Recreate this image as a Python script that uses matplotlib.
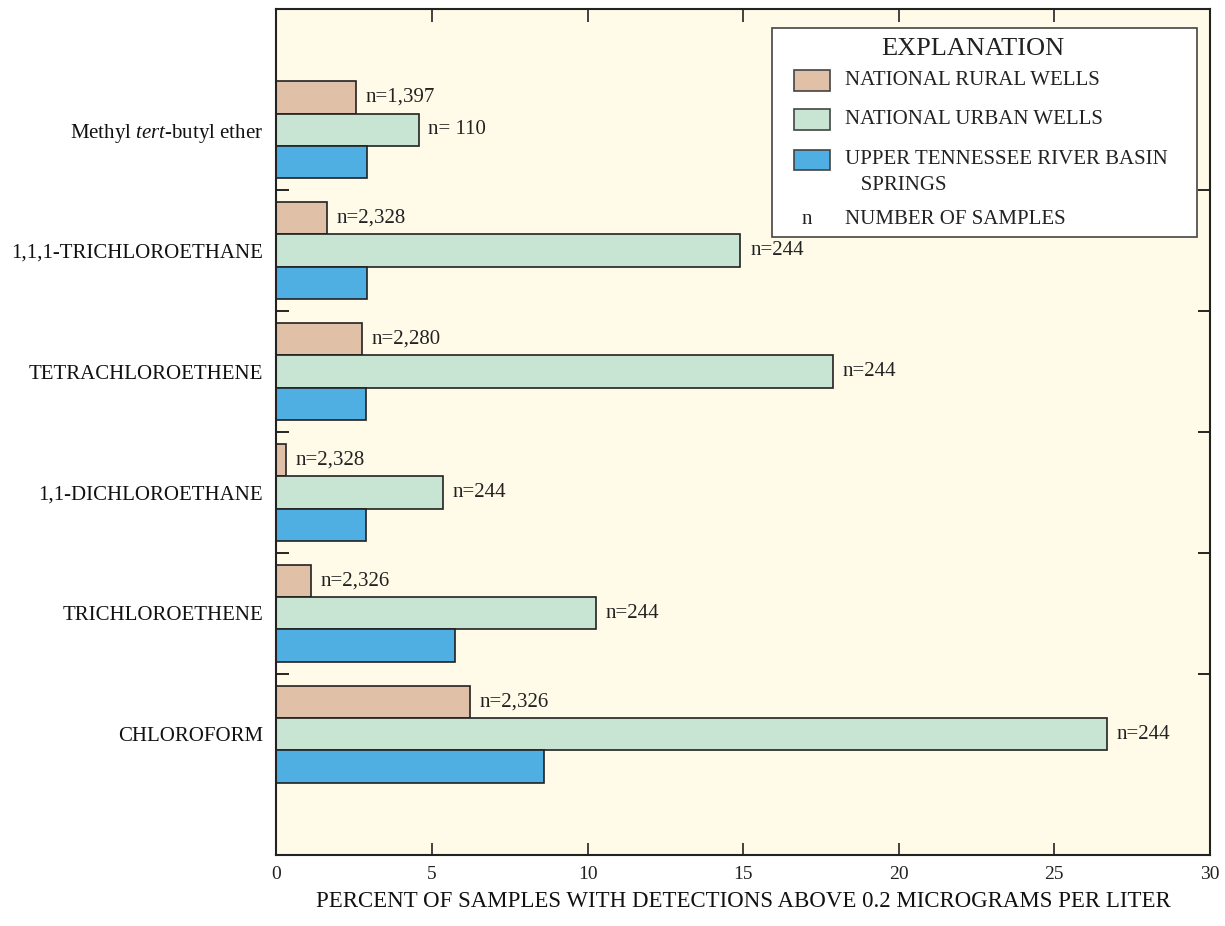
import matplotlib
matplotlib.use("Agg")
import matplotlib.pyplot as plt
from matplotlib.patches import Rectangle
import numpy as np

plt.rcParams["font.family"] = ["Liberation Serif", "DejaVu Serif"]
plt.rcParams["mathtext.fontset"] = "custom"
plt.rcParams["mathtext.rm"] = "Liberation Serif"
plt.rcParams["mathtext.it"] = "Liberation Serif:italic"

# Compounds, listed from top to bottom
compounds = [
    "Methyl $\\mathit{tert}$-butyl ether",
    "1,1,1-TRICHLOROETHANE",
    "TETRACHLOROETHENE",
    "1,1-DICHLOROETHANE",
    "TRICHLOROETHENE",
    "CHLOROFORM",
]

# Percent of samples with detections above 0.2 micrograms per liter
rural_pct = [2.54, 1.63, 2.74, 0.31, 1.11, 6.22]
urban_pct = [4.57, 14.91, 17.87, 5.34, 10.27, 26.68]
springs_pct = [2.90, 2.90, 2.88, 2.88, 5.73, 8.61]

# Number of samples
rural_n = ["n=1,397", "n=2,328", "n=2,280", "n=2,328", "n=2,326", "n=2,326"]
urban_n = ["n= 110", "n=244", "n=244", "n=244", "n=244", "n=244"]

series_names = [
    "NATIONAL RURAL WELLS",
    "NATIONAL URBAN WELLS",
    "UPPER TENNESSEE RIVER BASIN\n   SPRINGS",
]
x_ticks = [0, 5, 10, 15, 20, 25, 30]

c_rural = "#E0C0A7"
c_urban = "#C8E5D4"
c_springs = "#4FAFE2"
c_bg = "#FFFBE8"
c_edge = "#222222"

fig = plt.figure(figsize=(12.25, 9.26), dpi=100)
ax = fig.add_axes([0.2257, 0.0767, 0.7620, 0.9136])
ax.set_facecolor(c_bg)

n = len(compounds)
pos = np.arange(n)[::-1].astype(float)
bh = 0.268

bar_kw = dict(height=bh, edgecolor=c_edge, linewidth=1.2)
b_r = ax.barh(pos + bh, rural_pct, color=c_rural, **bar_kw)
b_u = ax.barh(pos, urban_pct, color=c_urban, **bar_kw)
b_s = ax.barh(pos - bh, springs_pct, color=c_springs, **bar_kw)

for y, v, lab in zip(pos + bh, rural_pct, rural_n):
    ax.annotate(lab, xy=(v, y), xytext=(7, 0), textcoords="offset points",
                va="center", ha="left", fontsize=15, color="#222222")
for y, v, lab in zip(pos, urban_pct, urban_n):
    ax.annotate(lab, xy=(v, y), xytext=(7, 0), textcoords="offset points",
                va="center", ha="left", fontsize=15, color="#222222")

ax.set_xlim(0, 30)
ax.set_ylim(-1.0, n)
ax.set_xticks(x_ticks)
ax.set_xticklabels([str(t) for t in x_ticks])
ax.set_yticks(pos)
ax.set_yticklabels(compounds)
ax.set_yticks(np.arange(n - 1) + 0.5, minor=True)

ax.tick_params(axis="x", which="major", direction="in", length=9, width=1.2,
               top=True, labelsize=14, pad=8, colors="#222222")
ax.tick_params(axis="y", which="major", length=0, pad=9.5, labelsize=15,
               colors="#111111")
ax.tick_params(axis="y", which="minor", direction="in", length=9, width=1.2,
               left=True, right=True)
for sp in ax.spines.values():
    sp.set_linewidth(1.5)
    sp.set_color(c_edge)

ax.set_xlabel("PERCENT OF SAMPLES WITH DETECTIONS ABOVE 0.2 MICROGRAMS PER LITER",
              fontsize=16.5, labelpad=6, color="#111111")

# Explanation box
box = Rectangle((0.531, 0.7305), 0.455, 0.247, transform=ax.transAxes,
                facecolor="white", edgecolor="#444444", linewidth=1.2, zorder=5)
ax.add_patch(box)
ax.text(0.746, 0.953, "EXPLANATION", transform=ax.transAxes, ha="center",
        va="center", fontsize=19, color="#222222", zorder=6)

sw_x, sw_w, sw_h = 0.5544, 0.0386, 0.0248
txt_x = 0.609
rows = [(0.9155, c_rural), (0.8688, c_urban), (0.8215, c_springs)]
for (yc, col), name in zip(rows, series_names):
    ax.add_patch(Rectangle((sw_x, yc - sw_h / 2), sw_w, sw_h, transform=ax.transAxes,
                           facecolor=col, edgecolor="#444444", linewidth=1.2, zorder=6))
    first, *rest = name.split("\n")
    ax.text(txt_x, yc, first, transform=ax.transAxes, ha="left", va="center",
            fontsize=15, color="#222222", zorder=6)
    for k, line in enumerate(rest, start=1):
        ax.text(txt_x, yc - 0.0305 * k, line, transform=ax.transAxes, ha="left",
                va="center", fontsize=15, color="#222222", zorder=6)

ax.text(0.568, 0.7506, "n", transform=ax.transAxes, ha="center", va="center",
        fontsize=15, color="#222222", zorder=6)
ax.text(txt_x, 0.7506, "NUMBER OF SAMPLES", transform=ax.transAxes, ha="left",
        va="center", fontsize=15, color="#222222", zorder=6)

fig.savefig("out.png", dpi=100, facecolor="white")
